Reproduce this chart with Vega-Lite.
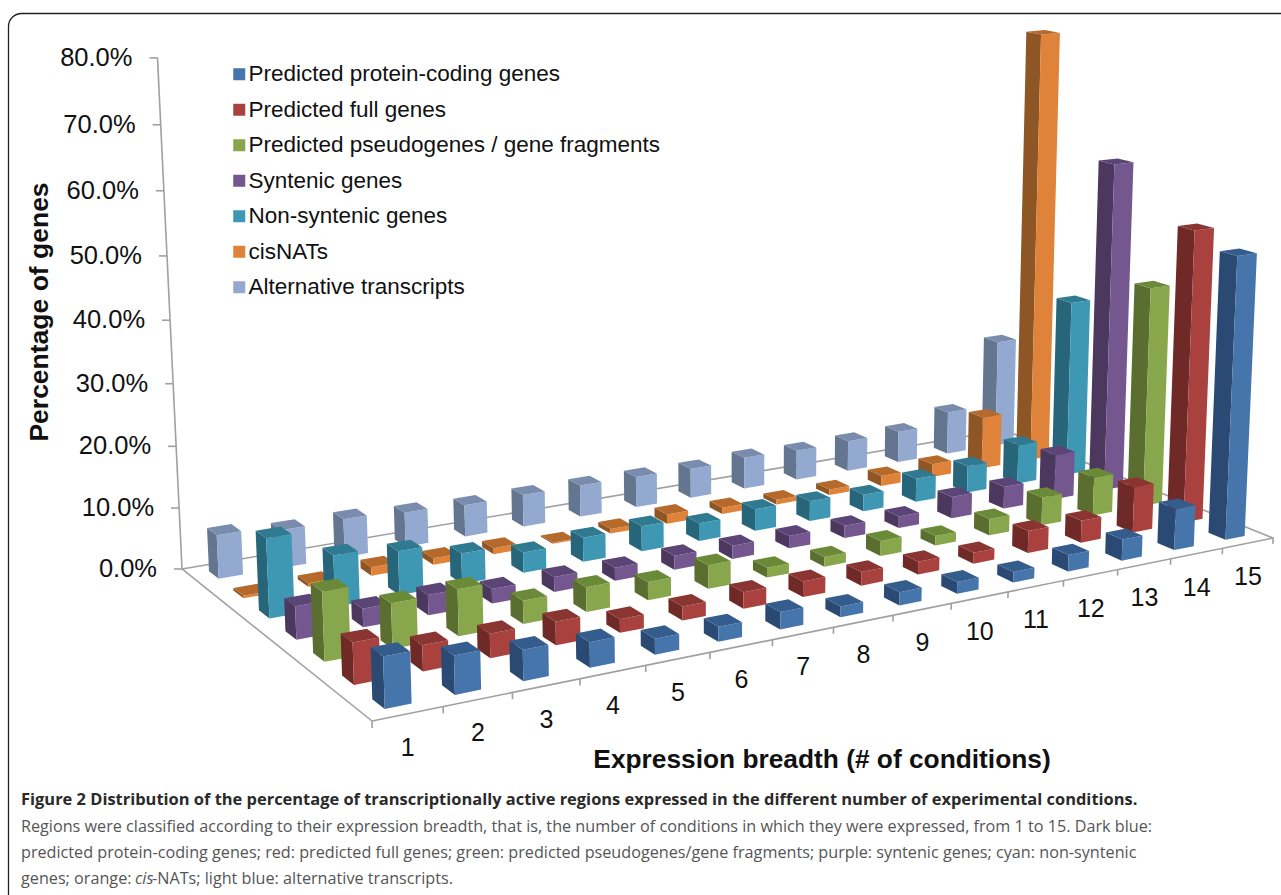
{
  "$schema": "https://vega.github.io/schema/vega-lite/v6.json",
  "autosize": "none",
  "padding": 0,
  "width": 1281,
  "height": 895,
  "background": "white",
  "view": {"stroke": null},
  "config": {"font": "Liberation Sans"},
  "datasets": {
    "bars": [
      {"condition":15,"row":6,"value":19.3},{"condition":14,"row":6,"value":7.7},{"condition":13,"row":6,"value":5.6},{"condition":12,"row":6,"value":5.4},{"condition":11,"row":6,"value":5.2},{"condition":10,"row":6,"value":5.5},{"condition":9,"row":6,"value":5.1},{"condition":8,"row":6,"value":5.3},{"condition":7,"row":6,"value":5.4},{"condition":6,"row":6,"value":5.4},{"condition":5,"row":6,"value":5.3},{"condition":4,"row":6,"value":5.7},{"condition":3,"row":6,"value":6.3},{"condition":2,"row":6,"value":6.2},{"condition":1,"row":6,"value":7.1},
      {"condition":15,"row":5,"value":75.4},{"condition":14,"row":5,"value":9.3},{"condition":13,"row":5,"value":2.3},{"condition":12,"row":5,"value":1.8},{"condition":11,"row":5,"value":1.0},{"condition":10,"row":5,"value":0.8},{"condition":9,"row":5,"value":1.1},{"condition":8,"row":5,"value":1.6},{"condition":7,"row":5,"value":0.8},{"condition":6,"row":5,"value":0.2},{"condition":5,"row":5,"value":1.0},{"condition":4,"row":5,"value":1.1},{"condition":3,"row":5,"value":1.4},{"condition":2,"row":5,"value":0.6},{"condition":1,"row":5,"value":0.4},
      {"condition":15,"row":4,"value":30.8},{"condition":14,"row":4,"value":6.9},{"condition":13,"row":4,"value":4.7},{"condition":12,"row":4,"value":4.1},{"condition":11,"row":4,"value":2.9},{"condition":10,"row":4,"value":3.4},{"condition":9,"row":4,"value":3.7},{"condition":8,"row":4,"value":3.0},{"condition":7,"row":4,"value":4.2},{"condition":6,"row":4,"value":4.0},{"condition":5,"row":4,"value":3.3},{"condition":4,"row":4,"value":4.9},{"condition":3,"row":4,"value":7.0},{"condition":2,"row":4,"value":8.1},{"condition":1,"row":4,"value":12.5},
      {"condition":15,"row":3,"value":56.4},{"condition":14,"row":3,"value":7.8},{"condition":13,"row":3,"value":3.8},{"condition":12,"row":3,"value":3.7},{"condition":11,"row":3,"value":2.0},{"condition":10,"row":3,"value":2.1},{"condition":9,"row":3,"value":2.1},{"condition":8,"row":3,"value":2.2},{"condition":7,"row":3,"value":2.3},{"condition":6,"row":3,"value":2.1},{"condition":5,"row":3,"value":2.4},{"condition":4,"row":3,"value":2.3},{"condition":3,"row":3,"value":3.2},{"condition":2,"row":3,"value":2.9},{"condition":1,"row":3,"value":5.1},
      {"condition":15,"row":2,"value":37.5},{"condition":14,"row":2,"value":6.6},{"condition":13,"row":2,"value":4.8},{"condition":12,"row":2,"value":2.8},{"condition":11,"row":2,"value":1.6},{"condition":10,"row":2,"value":2.5},{"condition":9,"row":2,"value":1.6},{"condition":8,"row":2,"value":1.6},{"condition":7,"row":2,"value":3.8},{"condition":6,"row":2,"value":2.9},{"condition":5,"row":2,"value":3.9},{"condition":4,"row":2,"value":3.6},{"condition":3,"row":2,"value":7.2},{"condition":2,"row":2,"value":6.9},{"condition":1,"row":2,"value":10.5},
      {"condition":15,"row":1,"value":49},{"condition":14,"row":1,"value":7.7},{"condition":13,"row":1,"value":3.7},{"condition":12,"row":1,"value":3.7},{"condition":11,"row":1,"value":1.8},{"condition":10,"row":1,"value":2.1},{"condition":9,"row":1,"value":2.2},{"condition":8,"row":1,"value":2.5},{"condition":7,"row":1,"value":2.6},{"condition":6,"row":1,"value":2.2},{"condition":5,"row":1,"value":2.1},{"condition":4,"row":1,"value":3.6},{"condition":3,"row":1,"value":3.7},{"condition":2,"row":1,"value":3.9},{"condition":1,"row":1,"value":6.2},
      {"condition":15,"row":0,"value":46.8},{"condition":14,"row":0,"value":6.9},{"condition":13,"row":0,"value":3.5},{"condition":12,"row":0,"value":2.7},{"condition":11,"row":0,"value":1.7},{"condition":10,"row":0,"value":1.9},{"condition":9,"row":0,"value":2.1},{"condition":8,"row":0,"value":1.7},{"condition":7,"row":0,"value":2.7},{"condition":6,"row":0,"value":2.3},{"condition":5,"row":0,"value":2.4},{"condition":4,"row":0,"value":3.8},{"condition":3,"row":0,"value":4.6},{"condition":2,"row":0,"value":5.7},{"condition":1,"row":0,"value":7.5}
    ],
    "edges": [
      {"u0":0,"v0":0,"z0":0,"u1":15,"v1":0,"z1":0},
      {"u0":0,"v0":0,"z0":0,"u1":0,"v1":7,"z1":0},
      {"u0":0,"v0":7,"z0":0,"u1":15,"v1":7,"z1":0},
      {"u0":15,"v0":0,"z0":0,"u1":15,"v1":7,"z1":0},
      {"u0":0,"v0":7,"z0":0,"u1":0,"v1":7,"z1":80},
      {"u0":0,"v0":0,"z0":0,"u1":0,"v1":0,"z1":-1},{"u0":1,"v0":0,"z0":0,"u1":1,"v1":0,"z1":-1},{"u0":2,"v0":0,"z0":0,"u1":2,"v1":0,"z1":-1},{"u0":3,"v0":0,"z0":0,"u1":3,"v1":0,"z1":-1},
      {"u0":4,"v0":0,"z0":0,"u1":4,"v1":0,"z1":-1},{"u0":5,"v0":0,"z0":0,"u1":5,"v1":0,"z1":-1},{"u0":6,"v0":0,"z0":0,"u1":6,"v1":0,"z1":-1},{"u0":7,"v0":0,"z0":0,"u1":7,"v1":0,"z1":-1},
      {"u0":8,"v0":0,"z0":0,"u1":8,"v1":0,"z1":-1},{"u0":9,"v0":0,"z0":0,"u1":9,"v1":0,"z1":-1},{"u0":10,"v0":0,"z0":0,"u1":10,"v1":0,"z1":-1},{"u0":11,"v0":0,"z0":0,"u1":11,"v1":0,"z1":-1},
      {"u0":12,"v0":0,"z0":0,"u1":12,"v1":0,"z1":-1},{"u0":13,"v0":0,"z0":0,"u1":13,"v1":0,"z1":-1},{"u0":14,"v0":0,"z0":0,"u1":14,"v1":0,"z1":-1},{"u0":15,"v0":0,"z0":0,"u1":15,"v1":0,"z1":-1}
    ],
    "percent": [{"pct":0},{"pct":10},{"pct":20},{"pct":30},{"pct":40},{"pct":50},{"pct":60},{"pct":70},{"pct":80}],
    "conditions": [{"c":1},{"c":2},{"c":3},{"c":4},{"c":5},{"c":6},{"c":7},{"c":8},{"c":9},{"c":10},{"c":11},{"c":12},{"c":13},{"c":14},{"c":15}]
  },
  "encoding": {
    "x": {"field": "px", "type": "quantitative", "axis": null, "scale": {"domain": [0, 1281], "range": [0, 1281], "nice": false, "zero": false}},
    "y": {"field": "py", "type": "quantitative", "axis": null, "scale": {"domain": [0, 895], "range": [0, 895], "nice": false, "zero": false}}
  },
  "layer": [
    {
      "data": {"values": [{"frame": 1}]},
      "mark": {"type": "rect", "filled": false, "stroke": "#222222", "strokeWidth": 1.3, "cornerRadius": 13},
      "encoding": {"x": {"value": 8.5}, "x2": {"value": 1320}, "y": {"value": 13.5}, "y2": {"value": 960}}
    },
    {
      "data": {"name": "edges"},
      "transform": [
        {"calculate": "1+0.1996*datum.u0/15+0.1614*datum.v0/7", "as": "w"},
        {"calculate": "(1155.3*datum.u0/15-160.6*datum.v0/7+372)/datum.w", "as": "bx"},
        {"calculate": "datum.z0*7.03/datum.w*(1+0.0007*datum.z0)", "as": "h"},
        {"calculate": "datum.bx+(datum.bx-740)*0.000086*datum.h", "as": "px"},
        {"calculate": "(-75.6*datum.u0/15-60.2*datum.v0/7+721)/datum.w-datum.h", "as": "py"},
        {"calculate": "1+0.1996*datum.u1/15+0.1614*datum.v1/7", "as": "w2"},
        {"calculate": "(1155.3*datum.u1/15-160.6*datum.v1/7+372)/datum.w2", "as": "bx2"},
        {"calculate": "datum.z1*7.03/datum.w2*(1+0.0007*datum.z1)", "as": "h2"},
        {"calculate": "datum.bx2+(datum.bx2-740)*0.000086*datum.h2", "as": "px2"},
        {"calculate": "(-75.6*datum.u1/15-60.2*datum.v1/7+721)/datum.w2-datum.h2", "as": "py2"}
      ],
      "mark": {"type": "rule", "stroke": "#a0a0a0", "strokeWidth": 1.6},
      "encoding": {"x2": {"field": "px2"}, "y2": {"field": "py2"}}
    },
    {
      "data": {"name": "percent"},
      "transform": [
        {"calculate": "6.05*datum.pct*(1+0.0007*datum.pct)", "as": "h"},
        {"calculate": "182-558*0.000086*datum.h", "as": "px"},
        {"calculate": "569-datum.h", "as": "py"},
        {"calculate": "datum.px-8", "as": "tickEnd"}
      ],
      "mark": {"type": "rule", "stroke": "#a0a0a0", "strokeWidth": 1.6},
      "encoding": {"x2": {"field": "tickEnd"}}
    },
    {
      "data": {"name": "percent"},
      "transform": [
        {"calculate": "6.05*datum.pct*(1+0.0007*datum.pct)", "as": "h"},
        {"calculate": "182-558*0.000086*datum.h-25", "as": "px"},
        {"calculate": "569-datum.h", "as": "py"},
        {"calculate": "format(datum.pct,'.1f')+'%'", "as": "label"}
      ],
      "mark": {"type": "text", "align": "right", "baseline": "middle", "fontSize": 25.5, "color": "#111111"},
      "encoding": {"text": {"field": "label"}}
    },
    {
      "data": {"name": "conditions"},
      "transform": [
        {"calculate": "datum.c-0.5", "as": "u"},
        {"calculate": "1+0.1996*datum.u/15", "as": "w"},
        {"calculate": "(1155.3*datum.u/15+372)/datum.w", "as": "px"},
        {"calculate": "(-75.6*datum.u/15+721)/datum.w+34", "as": "py"}
      ],
      "mark": {"type": "text", "align": "center", "baseline": "middle", "fontSize": 25, "color": "#111111"},
      "encoding": {"text": {"field": "c", "type": "ordinal"}}
    },
    {
      "data": {"name": "bars"},
      "transform": [
        {"calculate": "['Predicted protein-coding genes','Predicted full genes','Predicted pseudogenes / gene fragments','Syntenic genes','Non-syntenic genes','cisNATs','Alternative transcripts'][datum.row]", "as": "series"},
        {"calculate": "['left','front','top']", "as": "face"},
        {"flatten": ["face"]},
        {"calculate": "[0,1,2,3]", "as": "k"},
        {"flatten": ["k"]},
        {"calculate": "datum.series+'|'+datum.face", "as": "shade"},
        {"calculate": "'bar_'+datum.row+'_'+datum.condition+'_'+datum.face", "as": "polygon"},
        {"calculate": "datum.condition-1+0.31", "as": "u0"},
        {"calculate": "datum.condition-0.31", "as": "u1"},
        {"calculate": "datum.row+0.3", "as": "v0"},
        {"calculate": "datum.row+0.7", "as": "v1"},
        {"calculate": "datum.k==0||datum.k==3", "as": "outer"},
        {"calculate": "datum.face=='left'?datum.u0:(datum.outer?datum.u0:datum.u1)", "as": "U"},
        {"calculate": "datum.face=='top'?(datum.k<2?datum.v0:datum.v1):(datum.face=='front'?datum.v0:(datum.outer?datum.v0:datum.v1))", "as": "V"},
        {"calculate": "datum.face=='top'?datum.value:(datum.k<2?0:datum.value)", "as": "Z"},
        {"calculate": "1+0.1996*datum.U/15+0.1614*datum.V/7", "as": "w"},
        {"calculate": "(1155.3*datum.U/15-160.6*datum.V/7+372)/datum.w", "as": "bx"},
        {"calculate": "datum.Z*7.03/datum.w*(1+0.0007*datum.Z)", "as": "h"},
        {"calculate": "datum.bx+(datum.bx-740)*0.000086*datum.h", "as": "px"},
        {"calculate": "(-75.6*datum.U/15-60.2*datum.V/7+721)/datum.w-datum.h", "as": "py"}
      ],
      "mark": {"type": "line", "strokeWidth": 0, "interpolate": "linear-closed"},
      "encoding": {
        "detail": {"field": "polygon"},
        "order": {"field": "k", "type": "quantitative"},
        "fill": {
          "field": "shade",
          "type": "nominal",
          "scale": {
            "domain": [
              "Predicted protein-coding genes|front","Predicted protein-coding genes|left","Predicted protein-coding genes|top",
              "Predicted full genes|front","Predicted full genes|left","Predicted full genes|top",
              "Predicted pseudogenes / gene fragments|front","Predicted pseudogenes / gene fragments|left","Predicted pseudogenes / gene fragments|top",
              "Syntenic genes|front","Syntenic genes|left","Syntenic genes|top",
              "Non-syntenic genes|front","Non-syntenic genes|left","Non-syntenic genes|top",
              "cisNATs|front","cisNATs|left","cisNATs|top",
              "Alternative transcripts|front","Alternative transcripts|left","Alternative transcripts|top"
            ],
            "range": [
              "#4575ab","#2b4a73","#345d8e",
              "#a9423e","#6f2a28","#8a3532",
              "#88a64b","#5a6e30","#6b8a38",
              "#74578f","#4c385f","#5b4476",
              "#3f98b3","#27667a","#2f7a90",
              "#df833a","#8f5625","#b5692a",
              "#93a9cf","#647590","#7a8cad"
            ]
          },
          "legend": {
            "orient": "none",
            "legendX": 228,
            "legendY": 63,
            "title": null,
            "values": [
              "Predicted protein-coding genes|front","Predicted full genes|front","Predicted pseudogenes / gene fragments|front",
              "Syntenic genes|front","Non-syntenic genes|front","cisNATs|front","Alternative transcripts|front"
            ],
            "labelExpr": "split(datum.label,'|')[0]",
            "symbolType": "square",
            "symbolSize": 144,
            "symbolStrokeWidth": 0,
            "labelFontSize": 22.5,
            "labelColor": "#111111",
            "labelOffset": -2,
            "labelLimit": 600,
            "rowPadding": 12.5
          }
        }
      }
    },
    {
      "data": {"values": [{"text": "Percentage of genes"}]},
      "mark": {"type": "text", "angle": 270, "fontWeight": "bold", "fontSize": 26.5, "align": "center", "baseline": "middle", "color": "#111111"},
      "encoding": {"x": {"value": 40}, "y": {"value": 312}, "text": {"field": "text"}}
    },
    {
      "data": {"values": [{"text": "Expression breadth (# of conditions)"}]},
      "mark": {"type": "text", "fontWeight": "bold", "fontSize": 26.3, "align": "center", "baseline": "middle", "color": "#111111"},
      "encoding": {"x": {"value": 822}, "y": {"value": 760}, "text": {"field": "text"}}
    },
    {
      "data": {"values": [{"text": "Figure 2 Distribution of the percentage of transcriptionally active regions expressed in the different number of experimental conditions."}]},
      "mark": {"type": "text", "font": "Open Sans", "fontWeight": "bold", "fontSize": 16.45, "align": "left", "baseline": "middle", "color": "#2a2a2a"},
      "encoding": {"x": {"value": 21}, "y": {"value": 800}, "text": {"field": "text"}}
    },
    {
      "data": {"values": [
        {"line": 1, "text": "Regions were classified according to their expression breadth, that is, the number of conditions in which they were expressed, from 1 to 15. Dark blue:"},
        {"line": 2, "text": "predicted protein-coding genes; red: predicted full genes; green: predicted pseudogenes/gene fragments; purple: syntenic genes; cyan: non-syntenic"},
        {"line": 3, "text": "genes; orange:"}
      ]},
      "transform": [{"calculate": "801+26*datum.line", "as": "py"}],
      "mark": {"type": "text", "font": "Open Sans", "fontSize": 16.2, "align": "left", "baseline": "middle", "color": "#555555"},
      "encoding": {"x": {"value": 21}, "text": {"field": "text"}}
    },
    {
      "data": {"values": [{"text": "cis"}]},
      "mark": {"type": "text", "font": "Open Sans", "fontStyle": "italic", "fontSize": 16.2, "align": "left", "baseline": "middle", "color": "#555555"},
      "encoding": {"x": {"value": 135}, "y": {"value": 879}, "text": {"field": "text"}}
    },
    {
      "data": {"values": [{"text": "-NATs; light blue: alternative transcripts."}]},
      "mark": {"type": "text", "font": "Open Sans", "fontSize": 16.2, "align": "left", "baseline": "middle", "color": "#555555"},
      "encoding": {"x": {"value": 152}, "y": {"value": 879}, "text": {"field": "text"}}
    }
  ]
}
